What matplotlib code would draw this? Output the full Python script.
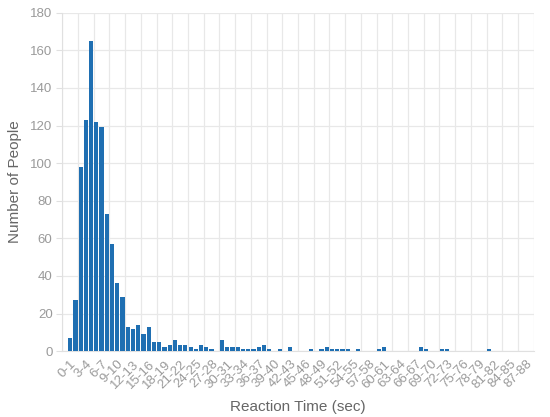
import matplotlib
matplotlib.use('Agg')
import matplotlib.pyplot as plt

plt.rcParams['font.family'] = ['Liberation Sans', 'DejaVu Sans']

# reaction time bins, 1 second wide: 0-1 ... 88-89
bin_start = list(range(0, 89))
bin_labels = ['%d-%d' % (s, s + 1) for s in bin_start]

# number of people per bin
counts = [7, 27, 98, 123, 165, 122, 119, 73, 57, 36,
          29, 13, 12, 14, 9, 13, 5, 5, 2, 3,
          6, 3, 3, 2, 1, 3, 2, 1, 0, 6,
          2, 2, 2, 1, 1, 1, 2, 3, 1, 0,
          1, 0, 2, 0, 0, 0, 1, 0, 1, 2,
          1, 1, 1, 1, 0, 1, 0, 0, 0, 1,
          2, 0, 0, 0, 0, 0, 0, 2, 1, 0,
          0, 1, 1, 0, 0, 0, 0, 0, 0, 0,
          1, 0, 0, 0, 0, 0, 0, 0, 0]

y_ticks = [0, 20, 40, 60, 80, 100, 120, 140, 160, 180]

fig = plt.figure(figsize=(5.5, 4.17), dpi=100, facecolor='w')
ax = fig.add_axes([0.1133, 0.158, 0.857, 0.8115])

x = list(range(len(counts)))
ax.bar(x, counts, width=0.8, color='#1f6fb2', zorder=3)

ax.set_xlim(-1.5, 88.5)
ax.set_ylim(0, 180)

ax.set_yticks(y_ticks)
ax.set_xticks(x[::3])
ax.set_xticklabels(bin_labels[::3], rotation=45, ha='right',
                   rotation_mode='anchor')
ax.set_xticks([-1.5 + 3 * k for k in range(31)], minor=True)

ax.grid(True, which='minor', axis='x', color='#e8e8e8', linewidth=0.9, zorder=0)
ax.grid(True, which='major', axis='y', color='#e8e8e8', linewidth=0.9, zorder=0)

ax.tick_params(axis='x', which='major', length=0, pad=5, labelsize=9.5,
               labelcolor='#9a9a9a')
ax.tick_params(axis='x', which='minor', length=0)
ax.tick_params(axis='y', length=4, width=0.8, color='#e0e0e0', pad=3,
               labelsize=9.5, labelcolor='#9a9a9a')

for side in ['top', 'right']:
    ax.spines[side].set_visible(False)
ax.spines['left'].set_color('#e0e0e0')
ax.spines['bottom'].set_color('#e0e0e0')

ax.set_xlabel('Reaction Time (sec)', fontsize=11, color='#666666', labelpad=7)
ax.set_ylabel('Number of People', fontsize=11, color='#666666', labelpad=6)

fig.savefig('out.png', dpi=100)
